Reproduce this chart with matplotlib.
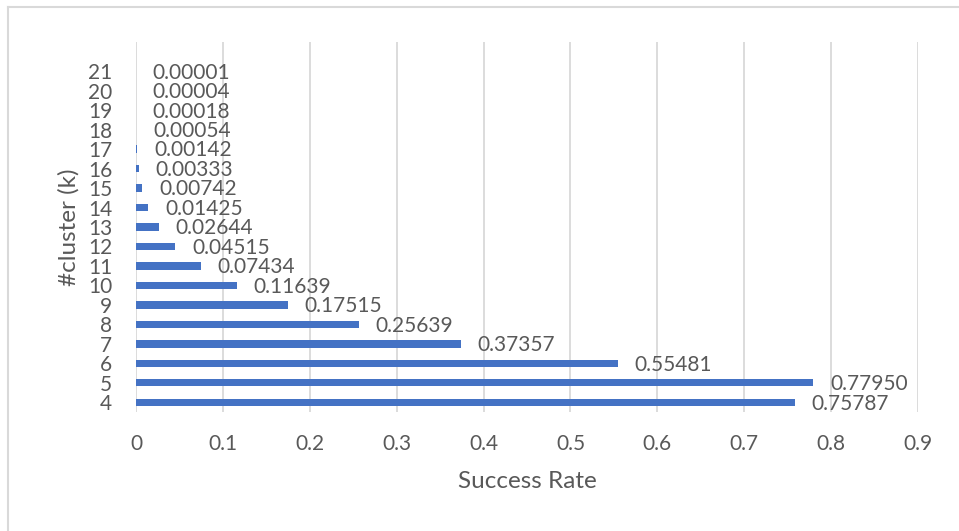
import matplotlib.pyplot as plt
from matplotlib.lines import Line2D

clusters = ['4', '5', '6', '7', '8', '9', '10', '11', '12', '13', '14', '15',
            '16', '17', '18', '19', '20', '21']
success_rate = [0.75787, 0.77950, 0.55481, 0.37357, 0.25639, 0.17515, 0.11639,
                0.07434, 0.04515, 0.02644, 0.01425, 0.00742, 0.00333, 0.00142,
                0.00054, 0.00018, 0.00004, 0.00001]
value_labels = ['0.75787', '0.77950', '0.55481', '0.37357', '0.25639', '0.17515',
                '0.11639', '0.07434', '0.04515', '0.02644', '0.01425', '0.00742',
                '0.00333', '0.00142', '0.00054', '0.00018', '0.00004', '0.00001']
x_ticks = [0, 0.1, 0.2, 0.3, 0.4, 0.5, 0.6, 0.7, 0.8, 0.9]
x_ticklabels = ['0', '0.1', '0.2', '0.3', '0.4', '0.5', '0.6', '0.7', '0.8', '0.9']

text_col = '#595959'
grid_col = '#D9D9D9'
plt.rcParams['font.family'] = ['Lato', 'DejaVu Sans']

fig = plt.figure(figsize=(9.59, 5.31), dpi=100)
ax = fig.add_axes([136/959, 119/531, (918-136)/959, 370/531])

pos = list(range(len(clusters)))
ax.barh(pos, success_rate, height=0.38, color='#4472C4', zorder=3)

for p, v, lab in zip(pos, success_rate, value_labels):
    ax.annotate(lab, (v, p), xytext=(12, -1), textcoords='offset points',
                ha='left', va='center', fontsize=15, color=text_col, zorder=4)

ax.set_xlim(0, 0.9)
ax.set_ylim(-0.5, len(clusters) + 0.5)  # empty slot above 21, like the original
ax.set_xticks(x_ticks)
ax.set_xticklabels(x_ticklabels)
ax.set_yticks(pos)
ax.set_yticklabels(clusters)
ax.tick_params(axis='x', length=0, pad=16, labelsize=15, labelcolor=text_col)
ax.tick_params(axis='y', length=0, pad=17, labelsize=15, labelcolor=text_col)
ax.grid(axis='x', color=grid_col, linewidth=1.3, zorder=0)
for s in ax.spines.values():
    s.set_visible(False)

ax.set_xlabel('Success Rate', fontsize=17.5, color=text_col, labelpad=12)
ax.set_ylabel('#cluster (k)', fontsize=17.5, color=text_col, labelpad=6)

# chart frame (only top and left edges are visible in the crop)
fig.add_artist(Line2D([8/959, 8/959], [0, 1 - 7/531], color=grid_col, lw=1.5))
fig.add_artist(Line2D([8/959, 1], [1 - 7/531, 1 - 7/531], color=grid_col, lw=1.5))

fig.savefig('out.png', dpi=100)
